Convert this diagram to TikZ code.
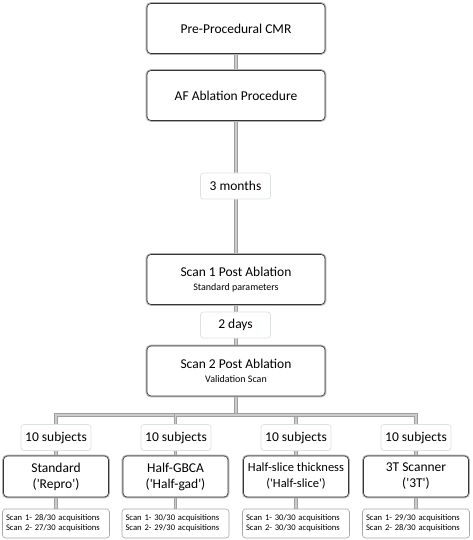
\documentclass[tikz,border=0pt]{standalone}
\usepackage{fontspec}
\setmainfont{Carlito}[Ligatures=TeXOff]
\usetikzlibrary{backgrounds}
\begin{document}
\begin{tikzpicture}[x=1pt,y=-1pt,
  mainbox/.style={preaction={draw=gray!60,line width=2.8pt},draw=black!80,line width=0.6pt,fill=white,rounded corners=4pt,minimum width=178pt,minimum height=50pt,align=center,font=\fontsize{13.5}{15}\selectfont},
  armbox/.style={preaction={draw=gray!60,line width=2.8pt},draw=black!80,line width=0.6pt,fill=white,rounded corners=4pt,minimum width=105pt,minimum height=41pt,align=center,font=\fontsize{13.5}{16}\selectfont},
  resbox/.style={draw=gray!70,line width=0.6pt,fill=white,rounded corners=3pt,minimum width=107pt,minimum height=29pt,align=left,text width=100pt,font=\fontsize{8.6}{10}\selectfont},
  tag/.style={draw=cyan!12!gray!28,line width=0.7pt,fill=white,rounded corners=3pt,minimum width=70pt,minimum height=26pt,font=\fontsize{13.5}{15}\selectfont},
  link/.style={draw=gray!75,double=gray!40,double distance=1.4pt,line width=1pt}]
\useasboundingbox (0,0) rectangle (472,540);
\node[mainbox] (pre) at (236,28.5) {Pre-Procedural CMR};
\node[mainbox] (abl) at (236,95.5) {AF Ablation Procedure};
\node[tag] (t3m) at (235.5,186) {3 months};
\node[mainbox] (scan1) at (236,279.5) {Scan 1 Post Ablation\\[-1pt]{\fontsize{10}{11}\selectfont Standard parameters}};
\node[tag] (t2d) at (235.5,325) {2 days};
\node[mainbox] (scan2) at (236,371) {Scan 2 Post Ablation\\[-1pt]{\fontsize{10}{11}\selectfont Validation Scan}};
\coordinate (bus) at (236,415);
\node[tag] (sub1) at (56,437.5) {10 subjects};
\node[tag] (sub2) at (176,437.5) {10 subjects};
\node[tag] (sub3) at (296,437.5) {10 subjects};
\node[tag] (sub4) at (416,437.5) {10 subjects};
\node[armbox] (repro) at (56,476.5) {Standard\\('Repro')};
\node[armbox] (halfgad) at (175.5,476.5) {Half-GBCA\\('Half-gad')};
\node[armbox,font=\fontsize{12.5}{16}\selectfont] (halfslice) at (296,476.5) {Half-slice thickness\\('Half-slice')};
\node[armbox] (threet) at (416,476.5) {3T Scanner\\('3T')};
\node[resbox] (r1) at (56,523.5) {Scan 1- 28/30 acquisitions\\Scan 2- 27/30 acquisitions};
\node[resbox] (r2) at (175.5,523.5) {Scan 1- 30/30 acquisitions\\Scan 2- 29/30 acquisitions};
\node[resbox] (r3) at (296,523.5) {Scan 1- 30/30 acquisitions\\Scan 2- 30/30 acquisitions};
\node[resbox] (r4) at (416,523.5) {Scan 1- 29/30 acquisitions\\Scan 2- 28/30 acquisitions};
\begin{scope}[on background layer]
\draw[link] (pre) -- (abl);
\draw[link] (abl) -- (scan1);
\draw[link] (scan1) -- (scan2);
\draw[link] (scan2) -- (bus);
\draw[link] (bus) -| (repro.north);
\draw[link] (bus) -| (halfgad.north);
\draw[link] (bus) -| (halfslice.north);
\draw[link] (bus) -| (threet.north);
\draw[link] (repro) -- (r1);
\draw[link] (halfgad) -- (r2);
\draw[link] (halfslice) -- (r3);
\draw[link] (threet) -- (r4);
\end{scope}
\end{tikzpicture}
\end{document}
